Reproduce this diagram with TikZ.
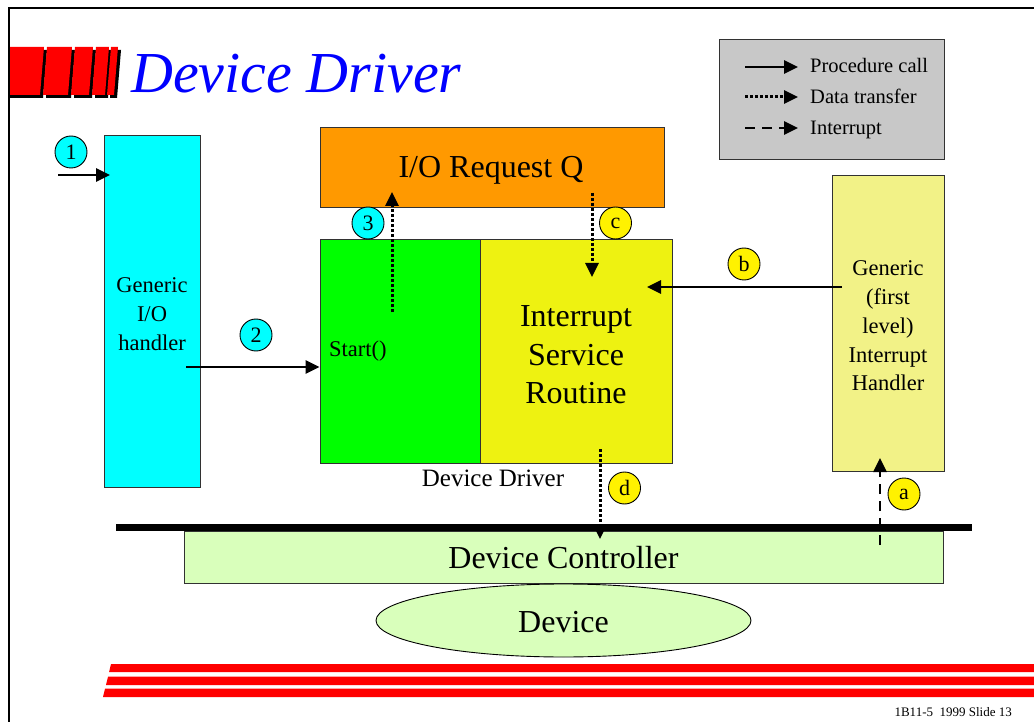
\documentclass[tikz,border=0pt]{standalone}
\usepackage{fontspec}
\setmainfont{Liberation Serif}
\usetikzlibrary{arrows.meta,shapes.geometric}
\definecolor{cyanbox}{RGB}{0,255,255}
\definecolor{orangebox}{RGB}{255,153,0}
\definecolor{greenbox}{RGB}{0,255,0}
\definecolor{isrbox}{RGB}{238,242,17}
\definecolor{flihbox}{RGB}{242,242,135}
\definecolor{legendbox}{RGB}{200,200,200}
\definecolor{ctrlbox}{RGB}{217,255,187}
\definecolor{boxline}{RGB}{50,50,50}
\tikzset{
  box/.style={draw=boxline, line width=0.9pt, inner sep=0pt},
  num/.style={circle, draw=black, line width=0.9pt, minimum size=32pt, inner sep=0pt, font=\fontsize{22}{22}\selectfont},
  tip/.style={-{Triangle[length=14pt,width=13pt]}},
  proc/.style={tip, line width=2.6pt},
  dataflow/.style={tip, line width=3pt, dash pattern=on 2.6pt off 2.4pt},
  intr/.style={tip, line width=2.6pt, dash pattern=on 10pt off 7pt},
  lbl/.style={inner sep=0pt, align=center},
}
\begin{document}
\begin{tikzpicture}[x=1pt,y=-1pt]
\useasboundingbox (0,0) rectangle (1034,722);
% frame
\draw[line width=2pt] (9,722) -- (9,8) -- (1034,8);
% logo bars (shadow, then red)
\foreach \a/\b in {10/44,47/72,75/93,96/109,111/118}{
  \fill[black] (\a+3,50) -- (\b+3,50) -- (\b-1,98) -- (\a-1,98) -- cycle;
}
\fill[red] (10,47) -- (44,47) -- (40,95) -- (10,95) -- cycle;
\foreach \a/\b in {47/72,75/93,96/109,111/118}{
  \fill[red] (\a,47) -- (\b,47) -- (\b-4,95) -- (\a-4,95) -- cycle;
}
\node[anchor=base west, inner sep=0pt, text=blue, font=\itshape\fontsize{58}{58}\selectfont] (title) at (131,93) {Device Driver};
% legend
\node[box, fill=legendbox, minimum width=225pt, minimum height=120pt] (legend) at (831.5,99) {};
\coordinate (lg1a) at (745,67); \coordinate (lg1b) at (798,67);
\coordinate (lg2a) at (745,97); \coordinate (lg2b) at (798,97);
\coordinate (lg3a) at (745,128); \coordinate (lg3b) at (798,128);
\draw[proc] (lg1a) -- (lg1b);
\draw[dataflow] (lg2a) -- (lg2b);
\draw[intr] (lg3a) -- (lg3b);
\node[anchor=base west, inner sep=0pt, font=\fontsize{20.5}{20.5}\selectfont] (lgt1) at (810,73) {Procedure call};
\node[anchor=base west, inner sep=0pt, font=\fontsize{20.5}{20.5}\selectfont] (lgt2) at (810,104) {Data transfer};
\node[anchor=base west, inner sep=0pt, font=\fontsize{20.5}{20.5}\selectfont] (lgt3) at (810,135) {Interrupt};
% boxes
\node[box, fill=cyanbox, minimum width=96pt, minimum height=352pt] (gio) at (152,311) {};
\node[lbl, font=\fontsize{22.5}{29}\selectfont] (giot) at (152,314) {Generic\\I/O\\handler};
\node[box, fill=orangebox, minimum width=344pt, minimum height=80pt] (ioq) at (492,167) {};
\node[lbl, font=\fontsize{32}{32}\selectfont] (ioqt) at (491,170) {I/O Request Q};
\node[box, fill=greenbox, minimum width=160pt, minimum height=224pt] (start) at (400,351) {};
\node[anchor=base west, inner sep=0pt, font=\fontsize{22.5}{22.5}\selectfont] (startt) at (329,356) {Start()};
\node[box, fill=isrbox, minimum width=192pt, minimum height=224pt] (isr) at (576,351) {};
\node[lbl, font=\fontsize{32}{38.5}\selectfont] (isrt) at (576,355) {Interrupt\\Service\\Routine};
\node[box, fill=flihbox, minimum width=112pt, minimum height=296pt] (flih) at (888,323) {};
\node[lbl, font=\fontsize{22.5}{28.8}\selectfont] (fliht) at (888,326) {Generic\\(first\\level)\\Interrupt\\Handler};
\node[inner sep=0pt, font=\fontsize{25}{25}\selectfont] (ddl) at (493,478) {Device Driver};
\node[box, fill=ctrlbox, minimum width=759pt, minimum height=52pt] (dc) at (563.5,557) {};
\node[lbl, font=\fontsize{32}{32}\selectfont] (dct) at (563.5,558) {Device Controller};
\node[ellipse, draw=black, line width=0.9pt, fill=ctrlbox, minimum width=375pt, minimum height=73pt, inner sep=0pt] (dev) at (563.5,620.5) {};
\node[lbl, font=\fontsize{32}{32}\selectfont] (devt) at (563.5,622) {Device};
% bus
\coordinate (busl) at (116,527.5); \coordinate (busr) at (972,527.5);
\draw[line width=7pt] (busl) -- (busr);
% numbered circles
\node[num, fill=cyanbox] (n1) at (71,152) {1};
\node[num, fill=cyanbox] (n2) at (256,335) {2};
\node[num, fill=cyanbox] (n3) at (368,223) {3};
\node[num, fill=yellow] (nc) at (615.5,223) {c};
\node[num, fill=yellow] (nb) at (744,264) {b};
\node[num, fill=yellow] (na) at (904,494) {a};
\node[num, fill=yellow] (nd) at (624.5,488) {d};
% connectors
\coordinate (a1s) at (58,175); \coordinate (a1e) at (110,175);
\draw[proc] (a1s) -- (a1e);
\coordinate (a2s) at (186,367);
\draw[proc] (a2s) -- (a2s -| start.west);
\coordinate (bs) at (842,287); \coordinate (be) at (647,287);
\draw[proc] (bs) -- (be);
\coordinate (d3s) at (392,312); \coordinate (d3e) at (392,192);
\draw[dataflow] (d3s) -- (d3e);
\coordinate (dcs) at (592,193); \coordinate (dce) at (592,277);
\draw[dataflow] (dcs) -- (dce);
\coordinate (dds) at (600,449); \coordinate (dde) at (600,539);
\draw[dataflow] (dds) -- (dde);
\coordinate (ias) at (880,545); \coordinate (iae) at (880,458);
\draw[intr] (ias) -- (iae);
% bottom stripes
\fill[red] (111,664) -- (1034,664) -- (1034,672) -- (109.1,672) -- cycle;
\fill[red] (108.1,676.5) -- (1034,676.5) -- (1034,685) -- (106,685) -- cycle;
\fill[red] (105.1,688.5) -- (1034,688.5) -- (1034,697) -- (103,697) -- cycle;
\node[anchor=base east, inner sep=0pt, font=\fontsize{13}{13}\selectfont] (footer) at (1012,716) {1B11-5\ \ 1999 Slide 13};
\end{tikzpicture}
\end{document}
